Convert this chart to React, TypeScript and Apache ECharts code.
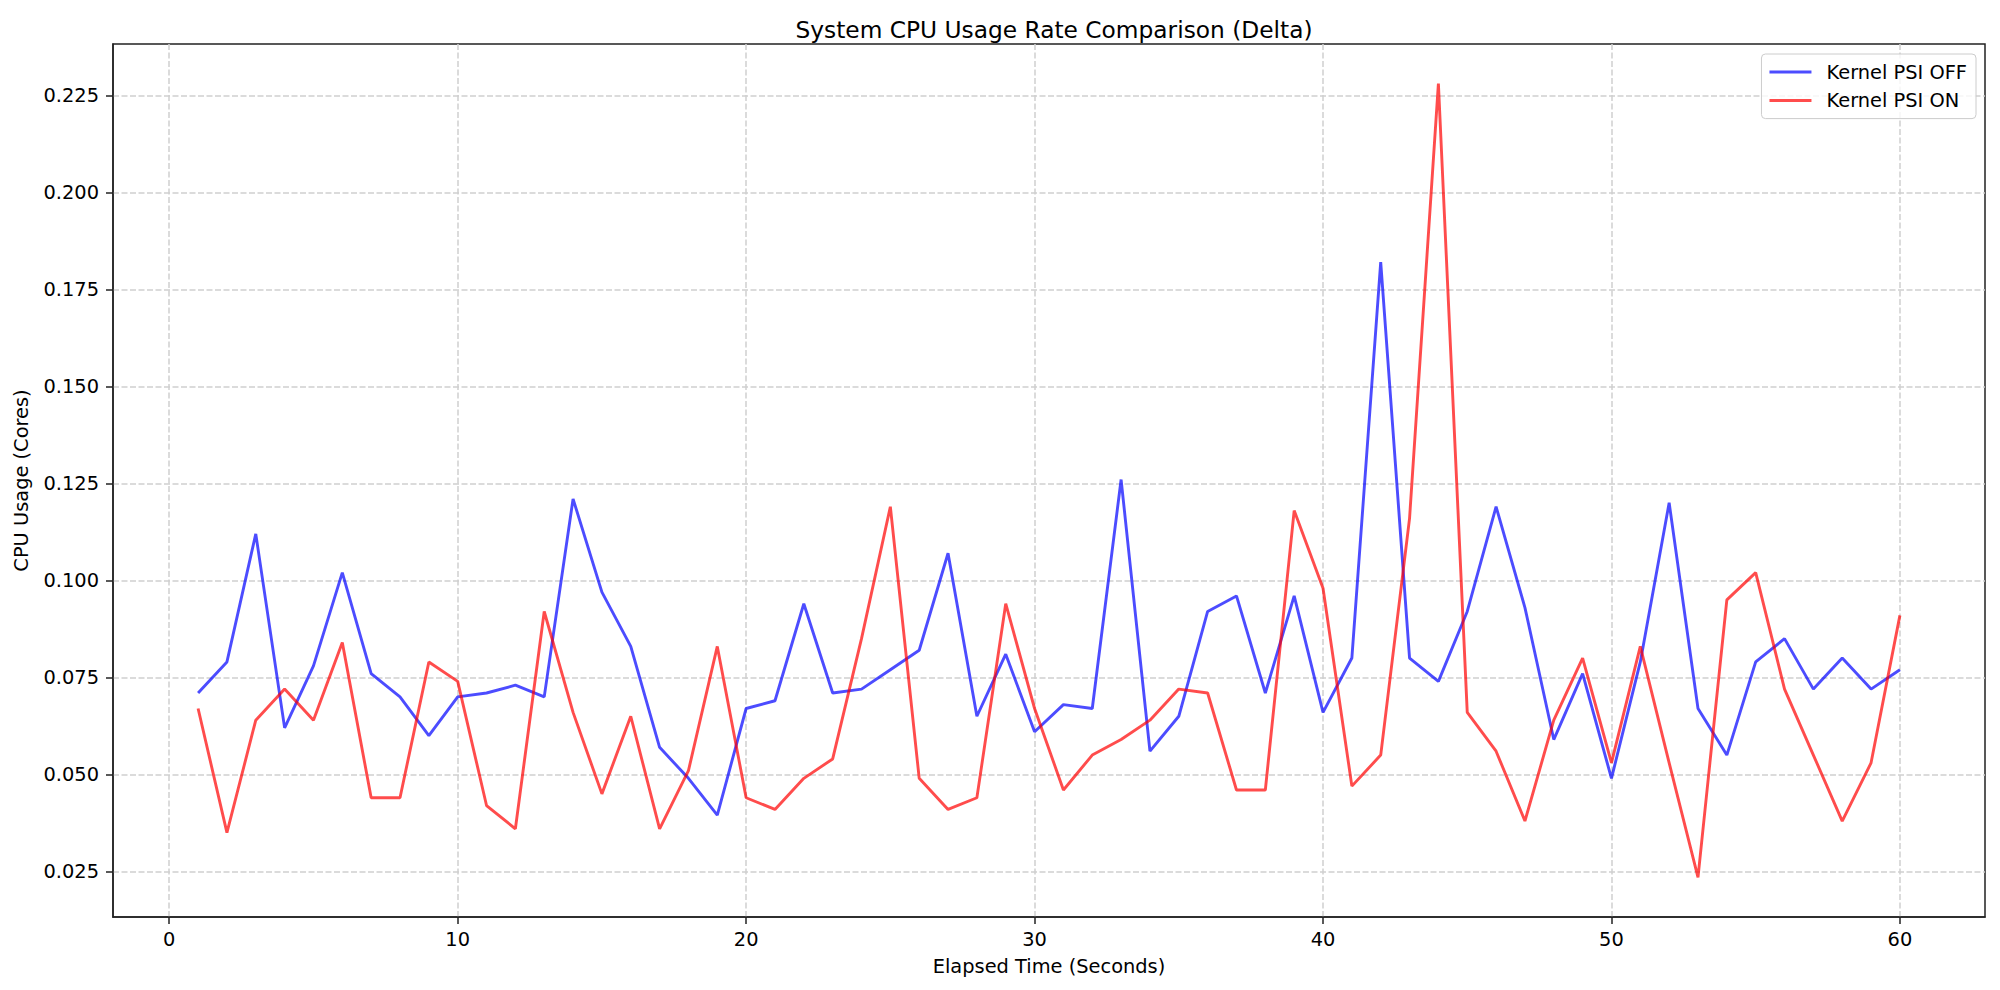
import React, { useEffect, useRef } from "react";
import * as echarts from "echarts";

const seconds = [
  1, 2, 3, 4, 5, 6, 7, 8, 9, 10, 11, 12, 13, 14, 15, 16, 17, 18, 19, 20,
  21, 22, 23, 24, 25, 26, 27, 28, 29, 30, 31, 32, 33, 34, 35, 36, 37, 38, 39, 40,
  41, 42, 43, 44, 45, 46, 47, 48, 49, 50, 51, 52, 53, 54, 55, 56, 57, 58, 59, 60,
];

const psiOff = [
  0.071, 0.079, 0.112, 0.062, 0.078, 0.102, 0.076, 0.070, 0.060, 0.070,
  0.071, 0.073, 0.070, 0.121, 0.097, 0.083, 0.057, 0.049, 0.0395, 0.067,
  0.069, 0.094, 0.071, 0.072, 0.077, 0.082, 0.107, 0.065, 0.081, 0.061,
  0.068, 0.067, 0.126, 0.056, 0.065, 0.092, 0.096, 0.071, 0.096, 0.066,
  0.080, 0.182, 0.080, 0.074, 0.092, 0.119, 0.093, 0.059, 0.076, 0.049,
  0.079, 0.120, 0.067, 0.055, 0.079, 0.085, 0.072, 0.080, 0.072, 0.077,
];

const psiOn = [
  0.067, 0.035, 0.064, 0.072, 0.064, 0.084, 0.044, 0.044, 0.079, 0.074,
  0.042, 0.036, 0.092, 0.066, 0.045, 0.065, 0.036, 0.051, 0.083, 0.044,
  0.041, 0.049, 0.054, 0.085, 0.119, 0.049, 0.041, 0.044, 0.094, 0.067,
  0.046, 0.055, 0.059, 0.064, 0.072, 0.071, 0.046, 0.046, 0.118, 0.098,
  0.047, 0.055, 0.116, 0.228, 0.066, 0.056, 0.038, 0.064, 0.080, 0.053,
  0.083, 0.053, 0.0235, 0.095, 0.102, 0.072, 0.055, 0.038, 0.053, 0.091,
];

const xTicks = [0, 10, 20, 30, 40, 50, 60];
const yTicks = [0.025, 0.05, 0.075, 0.1, 0.125, 0.15, 0.175, 0.2, 0.225];

const FONT = "DejaVu Sans";

export default function App() {
  const ref = useRef<HTMLDivElement>(null);

  useEffect(() => {
    document.body.style.margin = "0";
    if (!ref.current) return;
    const chart = echarts.init(ref.current, null, { renderer: "svg" });

    const allY = psiOff.concat(psiOn);
    const yLo = Math.min(...allY);
    const yHi = Math.max(...allY);
    const yPad = (yHi - yLo) * 0.05;
    const xLo = Math.min(...seconds);
    const xHi = Math.max(...seconds);
    const xPad = (xHi - xLo) * 0.05;

    const gridLine = { color: "#d0d0d0", width: 1.5, type: [6, 2.5] as any };

    chart.setOption({
      animation: false,
      backgroundColor: "#ffffff",
      title: {
        text: "System CPU Usage Rate Comparison (Delta)",
        left: 1049,
        top: 13,
        textAlign: "center",
        textStyle: { fontFamily: FONT, fontSize: 23.3, fontWeight: "normal", color: "#000" },
      },
      legend: {
        orient: "vertical",
        right: 24,
        top: 54,
        icon: "rect",
        itemWidth: 42,
        itemHeight: 3,
        itemGap: 8.6,
        padding: [8, 9, 8, 8],
        borderColor: "#cccccc",
        borderWidth: 1,
        borderRadius: 4,
        backgroundColor: "rgba(255,255,255,0.8)",
        textStyle: { fontFamily: FONT, fontSize: 19.4, color: "#000", padding: [0, 0, 0, 10], lineHeight: 20 },
        data: [
          { name: "Kernel PSI OFF", icon: "rect", itemStyle: { color: "rgba(0,0,255,0.7)" } },
          { name: "Kernel PSI ON", icon: "rect", itemStyle: { color: "rgba(255,0,0,0.7)" } },
        ],
      },
      grid: {
        left: 113,
        right: 15,
        top: 44,
        bottom: 73,
        containLabel: false,
        show: true,
        borderColor: "#222",
        borderWidth: 1.5,
        backgroundColor: "transparent",
      },
      xAxis: {
        type: "value",
        min: xLo - xPad,
        max: xHi + xPad,
        name: "Elapsed Time (Seconds)",
        nameLocation: "middle",
        nameGap: 40,
        nameTextStyle: { fontFamily: FONT, fontSize: 19.4, color: "#000" },
        axisLine: { show: true, onZero: false, lineStyle: { color: "#222", width: 1.5 } },
        axisTick: { show: true, inside: false, length: 7, customValues: xTicks, lineStyle: { color: "#222", width: 1.5 } },
        axisLabel: {
          customValues: xTicks,
          margin: 13,
          fontFamily: FONT,
          fontSize: 19.4,
          color: "#000",
          formatter: (v: number) => String(v),
        },
        splitLine: { show: true, lineStyle: gridLine },
      },
      yAxis: {
        type: "value",
        min: yLo - yPad,
        max: yHi + yPad,
        name: "CPU Usage (Cores)",
        nameLocation: "middle",
        nameRotate: 90,
        nameGap: 82,
        nameTextStyle: { fontFamily: FONT, fontSize: 19.4, color: "#000" },
        axisLine: { show: true, onZero: false, lineStyle: { color: "#222", width: 1.5 } },
        axisTick: { show: true, inside: false, length: 7, customValues: yTicks, lineStyle: { color: "#222", width: 1.5 } },
        axisLabel: {
          customValues: yTicks,
          margin: 14,
          fontFamily: FONT,
          fontSize: 19.4,
          color: "#000",
          formatter: (v: number) => v.toFixed(3),
        },
        splitLine: { show: true, lineStyle: gridLine },
      },
      series: [
        {
          name: "Kernel PSI OFF",
          type: "line",
          data: seconds.map((s, i) => [s, psiOff[i]]),
          symbol: "none",
          showSymbol: false,
          lineStyle: { color: "rgba(0,0,255,0.7)", width: 2.9 },
          itemStyle: { color: "rgba(0,0,255,0.7)" },
          z: 3,
        },
        {
          name: "Kernel PSI ON",
          type: "line",
          data: seconds.map((s, i) => [s, psiOn[i]]),
          symbol: "none",
          showSymbol: false,
          lineStyle: { color: "rgba(255,0,0,0.7)", width: 2.9 },
          itemStyle: { color: "rgba(255,0,0,0.7)" },
          z: 4,
        },
      ],
    });

    return () => chart.dispose();
  }, []);

  return (
    <div
      ref={ref}
      style={{ position: "fixed", left: 0, top: 0, width: 2000, height: 990, background: "#fff" }}
    />
  );
}
